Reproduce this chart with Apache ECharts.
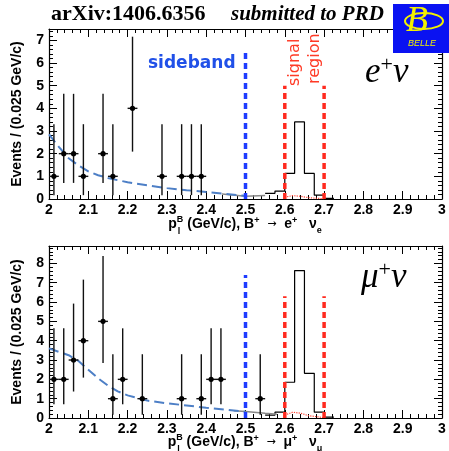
<!DOCTYPE html>
<html>
<head>
<meta charset="utf-8">
<script src="https://cdn.jsdelivr.net/npm/echarts@6/dist/echarts.min.js"></script>
<style>
  html, body { margin: 0; padding: 0; background: #fff; }
  #chart { width: 449px; height: 451px; }
</style>
</head>
<body>
<div id="chart"></div>
<script>
/* 数据: e+nu 面板 */
const eX = [2.0125, 2.0375, 2.0625, 2.0875, 2.1375, 2.1625, 2.2125, 2.2875, 2.3375, 2.3625, 2.3875];
const eN = [1, 2, 2, 1, 2, 1, 4, 1, 1, 1, 1];
const eLo = [0.17, 0.71, 0.71, 0.17, 0.71, 0.17, 2.09, 0.17, 0.17, 0.17, 0.17];
const eHi = [3.30, 4.64, 4.64, 3.30, 4.64, 3.30, 7.16, 3.30, 3.30, 3.30, 3.30];
const eBkgX = [2.0, 2.025, 2.05, 2.075, 2.1, 2.125, 2.15, 2.175, 2.2, 2.25, 2.3, 2.35, 2.4, 2.45, 2.5];
const eBkgY = [2.85, 2.3, 1.8, 1.48, 1.22, 1.05, 0.93, 0.83, 0.74, 0.6, 0.48, 0.39, 0.31, 0.22, 0.14];
const eTotX = [2.44, 2.5, 2.55];
const eTotY = [0.22, 0.12, 0.15];
const eHistEdges = [2.55, 2.575, 2.6, 2.625, 2.65, 2.675, 2.7, 2.725];
const eHistH = [0.25, 0.35, 1.13, 3.4, 1.13, 0.17, 0.03];
const ePeakX = [2.6, 2.62, 2.64, 2.66, 2.7];
const ePeakY = [0.08, 0.15, 0.12, 0.06, 0.01];

/* 数据: mu+nu 面板 */
const mX = [2.0125, 2.0375, 2.0625, 2.0875, 2.1375, 2.1625, 2.1875, 2.2375, 2.3375, 2.3875, 2.4125, 2.4375, 2.5375];
const mN = [2, 2, 3, 4, 5, 1, 2, 1, 1, 1, 2, 2, 1];
const mLo = [0.71, 0.71, 1.37, 2.09, 2.84, 0.17, 0.71, 0.17, 0.17, 0.17, 0.71, 0.71, 0.17];
const mHi = [4.64, 4.64, 5.92, 7.16, 8.38, 3.30, 4.64, 3.30, 3.30, 3.30, 4.64, 4.64, 3.30];
const mBkgX = [2.0, 2.05, 2.075, 2.1, 2.125, 2.15, 2.175, 2.2, 2.25, 2.3, 2.35, 2.4, 2.45, 2.5];
const mBkgY = [3.6, 3.25, 2.95, 2.5, 2.05, 1.68, 1.38, 1.17, 0.9, 0.76, 0.65, 0.53, 0.43, 0.33];
const mTotX = [2.47, 2.5, 2.55, 2.58];
const mTotY = [0.38, 0.34, 0.25, 0.2];
const mHistEdges = [2.55, 2.575, 2.6, 2.625, 2.65, 2.675, 2.7, 2.725];
const mHistH = [0.15, 0.3, 1.85, 7.63, 2.31, 0.3, 0.05];
const mPeakX = [2.6, 2.62, 2.64, 2.66, 2.7];
const mPeakY = [0.15, 0.3, 0.25, 0.12, 0.02];

/* 区间线 */
const sideEdge = 2.5;
const sigEdges = [2.6, 2.7];
const eLineTop = { side: 6.6, sig: 5.0 };
const mLineTop = { side: 7.4, sig: 6.3 };

const xTicks = { min: 2, max: 3, interval: 0.1 };
const binHalf = 0.0125;

const zip = (a, b) => a.map((v, i) => [v, b[i]]);
const stepData = (edges, h) => {
    let out = [];
    h.forEach((v, i) => { out.push([edges[i], v]); out.push([edges[i + 1], v]); });
    return out;
};

const labelFont = { fontFamily: 'Liberation Sans', fontWeight: 'bold', fontSize: 14, color: '#000' };
const axisLine = { show: true, onZero: false, lineStyle: { color: '#000', width: 1.2 } };

function xAxes(gridIndex) {
    const base = {
        type: 'value', gridIndex: gridIndex, min: xTicks.min, max: xTicks.max, interval: xTicks.interval,
        axisLine: axisLine, splitLine: { show: false },
        axisTick: { inside: true, length: 8, lineStyle: { color: '#000' } },
        minorTick: { show: true, splitNumber: 5, length: 4, lineStyle: { color: '#000' } }
    };
    return [
        Object.assign({}, base, { position: 'bottom', axisLabel: Object.assign({ margin: 4 }, labelFont) }),
        Object.assign({}, base, { position: 'top', axisLabel: { show: false } })
    ];
}

function yAxes(gridIndex, max) {
    const base = {
        type: 'value', gridIndex: gridIndex, min: 0, max: max, interval: 1,
        axisLine: axisLine, splitLine: { show: false },
        axisTick: { inside: true, length: 8, lineStyle: { color: '#000' } },
        minorTick: { show: true, splitNumber: 5, length: 4, lineStyle: { color: '#000' } }
    };
    return [
        Object.assign({}, base, {
            position: 'left',
            axisLabel: Object.assign({ margin: 5, showMaxLabel: false }, labelFont),
            name: 'Events / (0.025 GeV/c)', nameLocation: 'middle', nameGap: 25, nameRotate: 90,
            nameTextStyle: { fontFamily: 'Liberation Sans', fontWeight: 'bold', fontSize: 14, color: '#000' }
        }),
        Object.assign({}, base, { position: 'right', axisLabel: { show: false } })
    ];
}

function errorBars(xs, ys, lo, hi, xi, yi) {
    return {
        type: 'custom', xAxisIndex: xi, yAxisIndex: yi, z: 10,
        encode: { x: 0, y: 1 },
        data: xs.map((x, i) => [x, ys[i], lo[i], hi[i]]),
        renderItem: function (params, api) {
            const x = api.value(0);
            const c = api.coord([x, api.value(1)]);
            const l = api.coord([x, api.value(2)]);
            const h = api.coord([x, api.value(3)]);
            const a = api.coord([x - binHalf, api.value(1)]);
            const b = api.coord([x + binHalf, api.value(1)]);
            const st = { stroke: '#111', lineWidth: 1.4 };
            return {
                type: 'group', children: [
                    { type: 'line', shape: { x1: l[0], y1: l[1], x2: h[0], y2: h[1] }, style: st },
                    { type: 'line', shape: { x1: a[0], y1: a[1], x2: b[0], y2: b[1] }, style: st },
                    { type: 'circle', shape: { cx: c[0], cy: c[1], r: 2.6 }, style: { fill: '#000' } }
                ]
            };
        }
    };
}

function panelSeries(xi, yi, d) {
    const line = (data, style, z) => ({
        type: 'line', xAxisIndex: xi, yAxisIndex: yi, data: data, symbol: 'none',
        lineStyle: style, z: z || 2, silent: true
    });
    return [
        line(d.hist, { color: '#000', width: 1.2 }, 3),
        line(d.tot, { color: '#888', width: 1.5 }, 3),
        line(d.bkg, { color: '#4d7fc6', width: 2, type: [10, 5] }, 4),
        line(d.peak, { color: '#ff4030', width: 1.2, type: 'dotted' }, 4),
        line([[sideEdge, 0], [sideEdge, d.top.side]], { color: '#1e3cff', width: 3.5, type: [6, 4] }, 5),
        line([[sigEdges[0], 0], [sigEdges[0], d.top.sig]], { color: '#ff2a1f', width: 3.5, type: [6, 4] }, 5),
        line([[sigEdges[1], 0], [sigEdges[1], d.top.sig]], { color: '#ff2a1f', width: 3.5, type: [6, 4] }, 5),
        errorBars(d.x, d.n, d.lo, d.hi, xi, yi)
    ];
}

/* x 轴标题: 逐段排版, y 为文字底边 */
const measureCtx = document.createElement('canvas').getContext('2d');
const textW = (t, font) => { measureCtx.font = font; return measureCtx.measureText(t).width; };
const BIG = 'bold 14px Liberation Sans';
const SMALL = 'bold 9px Liberation Sans';
const ARROW = '11px DejaVu Sans';

function xTitle(cx, base, lep, nu) {
    // [text, font, dy, 叠放的下标]
    const parts = [
        ['p', BIG, 0], ['B', SMALL, -7, 'l'], [' (GeV/c), B', BIG, 0], ['+', SMALL, -6],
        ['  ', BIG, 0], ['→', ARROW, -1], ['  ' + lep, BIG, 0], ['+', SMALL, -6],
        ['   ν', BIG, 0], [nu, SMALL, 4]
    ];
    let total = 0;
    parts.forEach(p => { total += textW(p[0], p[1]); });
    let x = cx - total / 2;
    let out = [];
    parts.forEach(p => {
        out.push({ type: 'text', x: x, y: base + p[2], style: { text: p[0], font: p[1], fill: '#000', verticalAlign: 'bottom' } });
        if (p[3]) {
            out.push({ type: 'text', x: x + 1, y: base + 5, style: { text: p[3], font: SMALL, fill: '#000', verticalAlign: 'bottom' } });
        }
        x += textW(p[0], p[1]);
    });
    return out;
}

const serifIt = { fontFamily: 'Liberation Serif', fontStyle: 'italic', fontSize: 35, color: '#000' };
const procRich = {
    i: serifIt,
    s: { fontFamily: 'Liberation Serif', fontSize: 22, color: '#000', verticalAlign: 'top', padding: [0, 0, 16, 0] }
};

var chart = echarts.init(document.getElementById('chart'), null, { renderer: 'canvas' });
var option = {
    animation: false,
    backgroundColor: '#fff',
    grid: [
        { left: 49, right: 7, top: 29, height: 170 },
        { left: 49, right: 7, top: 246, height: 172 }
    ],
    xAxis: xAxes(0).concat(xAxes(1)),
    yAxis: yAxes(0, 7.5).concat(yAxes(1, 8.9)),
    series: panelSeries(0, 0, {
        hist: stepData(eHistEdges, eHistH), tot: zip(eTotX, eTotY), bkg: zip(eBkgX, eBkgY),
        peak: zip(ePeakX, ePeakY), top: eLineTop, x: eX, n: eN, lo: eLo, hi: eHi
    }).concat(panelSeries(2, 2, {
        hist: stepData(mHistEdges, mHistH), tot: zip(mTotX, mTotY), bkg: zip(mBkgX, mBkgY),
        peak: zip(mPeakX, mPeakY), top: mLineTop, x: mX, n: mN, lo: mLo, hi: mHi
    })),
    graphic: [
        { type: 'text', left: 51, top: 3, style: { text: 'arXiv:1406.6356', font: 'bold 22px Liberation Serif', fill: '#000' } },
        { type: 'text', left: 231, top: 4, style: { text: 'submitted to PRD', font: 'italic bold 21px Liberation Serif', fill: '#000' } },
        /* Belle logo */
        { type: 'rect', shape: { x: 393, y: 4, width: 56, height: 49 }, style: { fill: '#0a12f2' }, z: 20 },
        { type: 'ellipse', shape: { cx: 424, cy: 21, rx: 19, ry: 8 }, style: { fill: 'none', stroke: '#f2f000', lineWidth: 2 }, z: 21 },
        { type: 'text', x: 406, y: 4, style: { text: 'B', font: 'italic 36px Liberation Serif', fill: '#f2f000' }, z: 21 },
        { type: 'text', x: 408, y: 39, style: { text: 'BELLE', font: 'italic 9px Liberation Sans', fill: '#f2f000' }, z: 21 },
        /* annotations */
        { type: 'text', left: 148, top: 55, style: { text: 'sideband', font: 'bold 17px DejaVu Sans', fill: '#2050e8' } },
        { type: 'text', x: 303, y: 86, rotation: Math.PI / 2, style: { text: 'signal', font: '16px DejaVu Sans', fill: '#ff3a26', align: 'left', verticalAlign: 'bottom' } },
        { type: 'text', x: 323, y: 84, rotation: Math.PI / 2, style: { text: 'region', font: '16px DejaVu Sans', fill: '#ff3a26', align: 'left', verticalAlign: 'bottom' } },
        { type: 'text', left: 365, top: 54, style: { text: '{i|e}{s|+}{i|ν}', rich: procRich } },
        { type: 'text', left: 361, top: 259, style: { text: '{i|μ}{s|+}{i|ν}', rich: procRich } }
    ].concat(xTitle(245, 231, 'e', 'e'), xTitle(245, 449, 'μ', 'μ'))
};
chart.setOption(option);
</script>
</body>
</html>
